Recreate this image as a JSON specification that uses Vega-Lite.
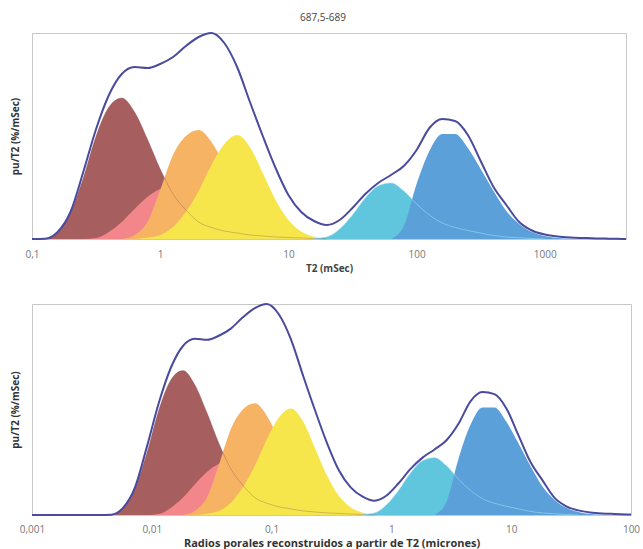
{
  "$schema": "https://vega.github.io/schema/vega-lite/v6.json",
  "padding": {"left": 9, "top": 12, "right": 2, "bottom": 0},
  "spacing": 25,
  "config": {
    "font": "Open Sans",
    "view": {"stroke": "#c8c8c8", "strokeWidth": 1},
    "axis": {"domain": false, "grid": false, "ticks": false, "labelColor": "#777777", "labelFontSize": 10, "labelFlush": false, "titleColor": "#444444", "titleFontSize": 10, "titleFontWeight": "bold"},
    "axisY": {"labels": false, "titlePadding": 12, "title": "pu/T2 (%/mSec)", "titleColor": "#333333"},
    "title": {"fontSize": 10, "fontWeight": "normal", "color": "#444444"}
  },
  "data": {"values": [
    {"t2":0.0275,"r":0.001,"env":0},
    {"t2":0.1,"r":0.003631,"env":0},
    {"t2":0.1259,"r":0.004571,"env":0.3,"brown":0},
    {"t2":0.1585,"r":0.005754,"env":7,"brown":7},
    {"t2":0.1995,"r":0.007244,"env":27,"brown":26},
    {"t2":0.2512,"r":0.00912,"env":67,"brown":61,"pink":0},
    {"t2":0.3162,"r":0.01148,"env":110,"brown":103,"pink":1},
    {"t2":0.3981,"r":0.01445,"env":144,"brown":132,"pink":7},
    {"t2":0.5012,"r":0.0182,"env":165,"brown":141,"pink":17,"orange":0},
    {"t2":0.631,"r":0.02291,"env":172,"brown":127,"pink":30,"orange":4,"yellow":0},
    {"t2":0.7943,"r":0.02884,"env":171,"brown":100,"pink":42,"orange":17,"yellow":1.3},
    {"t2":1,"r":0.03631,"env":175,"brown":70,"pink":50,"orange":49,"yellow":4},
    {"t2":1.259,"r":0.04571,"env":182,"brown":45,"pink":54,"orange":84,"yellow":12},
    {"t2":1.585,"r":0.05754,"env":193,"brown":29,"pink":52,"orange":103,"yellow":27},
    {"t2":1.995,"r":0.07244,"env":202,"brown":17,"pink":45,"orange":109,"yellow":48},
    {"t2":2.512,"r":0.0912,"env":206,"brown":11.5,"pink":33,"orange":97,"yellow":74},
    {"t2":3.162,"r":0.1148,"env":196,"brown":8,"pink":22,"orange":74,"yellow":95},
    {"t2":3.981,"r":0.1445,"env":172,"brown":6,"pink":12,"orange":48,"yellow":104},
    {"t2":5.012,"r":0.182,"env":137,"brown":4,"pink":7,"orange":27,"yellow":92},
    {"t2":6.31,"r":0.2291,"env":103,"brown":3,"pink":3,"orange":13,"yellow":66},
    {"t2":7.943,"r":0.2884,"env":71,"brown":2,"pink":1,"orange":5,"yellow":39},
    {"t2":10,"r":0.3631,"env":44,"brown":1.5,"pink":0,"orange":1.5,"yellow":19},
    {"t2":12.59,"r":0.4571,"env":27,"brown":1,"orange":0.5,"yellow":7.5},
    {"t2":15.85,"r":0.5754,"env":18,"brown":0.5,"orange":0,"yellow":2.3,"cyan":0.5},
    {"t2":19.95,"r":0.7244,"env":14,"brown":0,"yellow":0.6,"cyan":2},
    {"t2":25.12,"r":0.912,"env":19,"yellow":0,"cyan":10},
    {"t2":31.62,"r":1.148,"env":31,"cyan":24},
    {"t2":39.81,"r":1.445,"env":45,"cyan":41},
    {"t2":50.12,"r":1.82,"env":56,"cyan":53},
    {"t2":63.1,"r":2.291,"env":64,"cyan":56,"blue":0},
    {"t2":79.43,"r":2.884,"env":73,"cyan":48,"blue":13},
    {"t2":100,"r":3.631,"env":89,"cyan":35,"blue":55},
    {"t2":125.9,"r":4.571,"env":111,"cyan":24,"blue":88},
    {"t2":158.5,"r":5.754,"env":120,"cyan":16,"blue":105},
    {"t2":199.5,"r":7.244,"env":118,"cyan":11.5,"blue":105},
    {"t2":251.2,"r":9.12,"env":104,"cyan":8.5,"blue":91},
    {"t2":316.2,"r":11.48,"env":78,"cyan":6,"blue":70},
    {"t2":398.1,"r":14.45,"env":52,"cyan":3.5,"blue":48},
    {"t2":501.2,"r":18.2,"env":34,"cyan":2,"blue":28},
    {"t2":631,"r":22.91,"env":17,"cyan":1.2,"blue":15},
    {"t2":794.3,"r":28.84,"env":8.5,"cyan":0.5,"blue":7},
    {"t2":1000,"r":36.31,"env":4.5,"cyan":0,"blue":2.9},
    {"t2":1259,"r":45.71,"env":2.5,"blue":1},
    {"t2":1585,"r":57.54,"env":1.5,"blue":0.3},
    {"t2":1995,"r":72.44,"env":1,"blue":0},
    {"t2":2512,"r":91.2,"env":0.6},
    {"t2":2754,"r":100,"env":0.5},
    {"t2":3162,"r":114.8,"env":0.3},
    {"t2":3981,"r":144.5,"env":0.1},
    {"t2":4300,"r":156.1,"env":0}
  ]},
  "vconcat": [
    {
      "width": 594,
      "height": 206,
      "title": {"text": "687,5-689", "offset": 6, "dx": -6},
      "transform": [{"filter": "datum.t2 >= 0.1 && datum.t2 <= 4300"}],
      "encoding": {
        "x": {"field": "t2", "type": "quantitative",
          "scale": {"type": "log", "domain": [0.1, 4300], "nice": false},
          "axis": {"title": "T2 (mSec)", "values": [0.1, 1, 10, 100, 1000], "labelExpr": "replace(format(datum.value, '~g'), '.', ',')", "labelPadding": 10, "titlePadding": 4}}
      },
      "layer": [
        {"mark": {"type": "area", "color": "#a75e5f", "interpolate": "monotone"}, "encoding": {"y": {"field": "brown", "type": "quantitative", "scale": {"domain": [0, 206]}, "title": "pu/T2 (%/mSec)"}}},
        {"mark": {"type": "area", "color": "#f2868b", "interpolate": "monotone"}, "encoding": {"y": {"field": "pink", "type": "quantitative", "scale": {"domain": [0, 206]}, "title": "pu/T2 (%/mSec)"}}},
        {"mark": {"type": "area", "color": "#f6b363", "interpolate": "monotone"}, "encoding": {"y": {"field": "orange", "type": "quantitative", "scale": {"domain": [0, 206]}, "title": "pu/T2 (%/mSec)"}}},
        {"mark": {"type": "area", "color": "#f6e64c", "interpolate": "monotone"}, "encoding": {"y": {"field": "yellow", "type": "quantitative", "scale": {"domain": [0, 206]}, "title": "pu/T2 (%/mSec)"}}},
        {"mark": {"type": "area", "color": "#5fc6de", "interpolate": "monotone"}, "encoding": {"y": {"field": "cyan", "type": "quantitative", "scale": {"domain": [0, 206]}, "title": "pu/T2 (%/mSec)"}}},
        {"mark": {"type": "area", "color": "#5ca0da", "interpolate": "monotone"}, "encoding": {"y": {"field": "blue", "type": "quantitative", "scale": {"domain": [0, 206]}, "title": "pu/T2 (%/mSec)"}}},
        {"mark": {"type": "line", "color": "#7a4448", "opacity": 0.3, "strokeWidth": 1, "interpolate": "monotone"}, "encoding": {"y": {"field": "brown", "type": "quantitative", "scale": {"domain": [0, 206]}, "title": "pu/T2 (%/mSec)"}}},
        {"mark": {"type": "line", "color": "#9adcf0", "opacity": 0.6, "strokeWidth": 1, "interpolate": "monotone"}, "encoding": {"y": {"field": "cyan", "type": "quantitative", "scale": {"domain": [0, 206]}, "title": "pu/T2 (%/mSec)"}}},
        {"mark": {"type": "line", "color": "#4a4a9e", "strokeWidth": 2, "interpolate": "monotone"}, "encoding": {"y": {"field": "env", "type": "quantitative", "scale": {"domain": [0, 206]}, "title": "pu/T2 (%/mSec)"}}}
      ]
    },
    {
      "width": 599,
      "height": 211,
      "transform": [{"filter": "datum.r >= 0.001 && datum.r <= 100"}],
      "encoding": {
        "x": {"field": "r", "type": "quantitative",
          "scale": {"type": "log", "domain": [0.001, 100], "nice": false},
          "axis": {"title": "Radios porales reconstruidos a partir de T2 (micrones)", "titleFontSize": 11, "titleColor": "#333333", "values": [0.001, 0.01, 0.1, 1, 10, 100], "labelExpr": "replace(format(datum.value, '~g'), '.', ',')", "labelPadding": 9, "titlePadding": 3}}
      },
      "layer": [
        {"mark": {"type": "area", "color": "#a75e5f", "interpolate": "monotone"}, "encoding": {"y": {"field": "brown", "type": "quantitative", "scale": {"domain": [0, 206]}, "title": "pu/T2 (%/mSec)"}}},
        {"mark": {"type": "area", "color": "#f2868b", "interpolate": "monotone"}, "encoding": {"y": {"field": "pink", "type": "quantitative", "scale": {"domain": [0, 206]}, "title": "pu/T2 (%/mSec)"}}},
        {"mark": {"type": "area", "color": "#f6b363", "interpolate": "monotone"}, "encoding": {"y": {"field": "orange", "type": "quantitative", "scale": {"domain": [0, 206]}, "title": "pu/T2 (%/mSec)"}}},
        {"mark": {"type": "area", "color": "#f6e64c", "interpolate": "monotone"}, "encoding": {"y": {"field": "yellow", "type": "quantitative", "scale": {"domain": [0, 206]}, "title": "pu/T2 (%/mSec)"}}},
        {"mark": {"type": "area", "color": "#5fc6de", "interpolate": "monotone"}, "encoding": {"y": {"field": "cyan", "type": "quantitative", "scale": {"domain": [0, 206]}, "title": "pu/T2 (%/mSec)"}}},
        {"mark": {"type": "area", "color": "#5ca0da", "interpolate": "monotone"}, "encoding": {"y": {"field": "blue", "type": "quantitative", "scale": {"domain": [0, 206]}, "title": "pu/T2 (%/mSec)"}}},
        {"mark": {"type": "line", "color": "#7a4448", "opacity": 0.3, "strokeWidth": 1, "interpolate": "monotone"}, "encoding": {"y": {"field": "brown", "type": "quantitative", "scale": {"domain": [0, 206]}, "title": "pu/T2 (%/mSec)"}}},
        {"mark": {"type": "line", "color": "#9adcf0", "opacity": 0.6, "strokeWidth": 1, "interpolate": "monotone"}, "encoding": {"y": {"field": "cyan", "type": "quantitative", "scale": {"domain": [0, 206]}, "title": "pu/T2 (%/mSec)"}}},
        {"mark": {"type": "line", "color": "#4a4a9e", "strokeWidth": 2, "interpolate": "monotone"}, "encoding": {"y": {"field": "env", "type": "quantitative", "scale": {"domain": [0, 206]}, "title": "pu/T2 (%/mSec)"}}}
      ]
    }
  ]
}
